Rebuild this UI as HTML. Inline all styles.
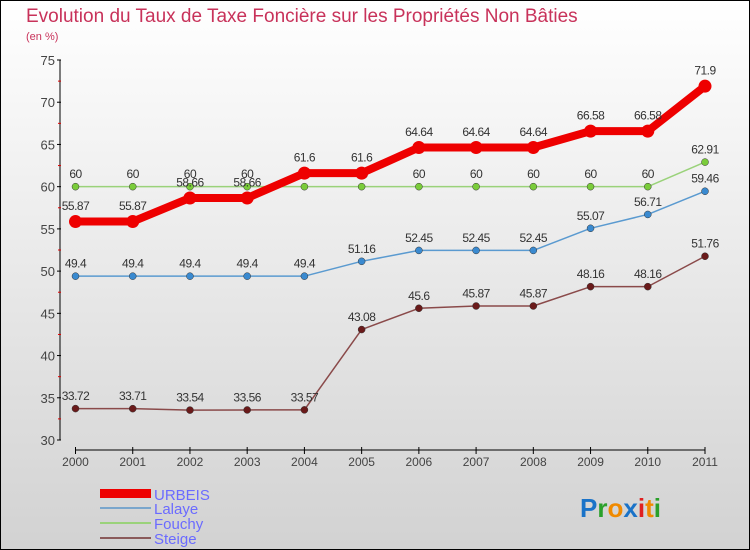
<!DOCTYPE html>
<html><head><meta charset="utf-8"><style>
body{margin:0}
#c{width:750px;height:550px;position:relative;overflow:hidden;box-sizing:border-box;border:1px solid #000;background:linear-gradient(#ffffff,#d2d2d2);font-family:"Liberation Sans",sans-serif}
</style></head><body>
<div id="c">
<svg id="s" width="750" height="550" style="position:absolute;left:-1px;top:-1px">
<text x="26" y="22" font-size="19" fill="#c8325a">Evolution du Taux de Taxe Foncière sur les Propriétés Non Bâties</text>
<text x="26" y="40" font-size="11" fill="#c8325a">(en %)</text>
<g id="axes"></g><g id="series"></g>
<g>
<rect x="100" y="489" width="51" height="9" fill="#e00"/>
<text x="154" y="500" font-size="15" fill="#6b6bff">URBEIS</text>
<line x1="100" y1="508" x2="151" y2="508" stroke="#7aa6cc" stroke-width="2"/>
<text x="154" y="514" font-size="15" fill="#6b6bff">Lalaye</text>
<line x1="100" y1="523" x2="151" y2="523" stroke="#9ad27a" stroke-width="2"/>
<text x="154" y="529" font-size="15" fill="#6b6bff">Fouchy</text>
<line x1="100" y1="538" x2="151" y2="538" stroke="#8a5a5a" stroke-width="2"/>
<text x="154" y="544" font-size="15" fill="#6b6bff">Steige</text>
</g>
<g font-size="26" font-weight="bold">
<text x="580" y="517"><tspan fill="#1a73c8">P</tspan><tspan fill="#2aa02a">r</tspan><tspan fill="#f08a00">o</tspan><tspan fill="#1a73c8">x</tspan><tspan fill="#e02020">i</tspan><tspan fill="#f08a00">t</tspan><tspan fill="#2aa02a">i</tspan></text>
</g>
</svg>
</div>
<script>
const years=[2000,2001,2002,2003,2004,2005,2006,2007,2008,2009,2010,2011];
const yTicks=[30,35,40,45,50,55,60,65,70,75];
const urbeis=[55.87,55.87,58.66,58.66,61.6,61.6,64.64,64.64,64.64,66.58,66.58,71.9];
const lalaye=[49.4,49.4,49.4,49.4,49.4,51.16,52.45,52.45,52.45,55.07,56.71,59.46];
const fouchy=[60,60,60,60,60,60,60,60,60,60,60,62.91];
const steige=[33.72,33.71,33.54,33.56,33.57,43.08,45.6,45.87,45.87,48.16,48.16,51.76];
const NS="http://www.w3.org/2000/svg";
const X=i=>75.5+i*(705-75.5)/(years.length-1);
const Y=v=>440-(v-30)*(380/45);
function mk(t,a,p){const e=document.createElementNS(NS,t);for(const k in a)e.setAttribute(k,a[k]);p.appendChild(e);return e;}
const ax=document.getElementById('axes');
const yl=mk('line',{x1:60,y1:Y(75),x2:60,y2:Y(30),stroke:'#000'},ax);


yTicks.forEach(v=>{
 mk('line',{x1:57,y1:Y(v),x2:61,y2:Y(v),stroke:'#000'},ax);
 const t=mk('text',{x:55,y:Y(v)+5,'font-size':13,fill:'#444','text-anchor':'end'},ax);
 t.textContent=v;
 
 
 if(v<75)mk('line',{x1:58,y1:Y(v+2.5),x2:61,y2:Y(v+2.5),stroke:'#d00'},ax);
});
const xl=mk('line',{x1:75.5,y1:450,x2:705,y2:450,stroke:'#000'},ax);


years.forEach((yr,i)=>{
 mk('line',{x1:X(i),y1:447,x2:X(i),y2:454,stroke:'#000'},ax);
 const t=mk('text',{x:X(i),y:466,'font-size':12,fill:'#444','text-anchor':'middle'},ax);
 t.textContent=yr;
 
 
});
const sg=document.getElementById('series');
function series(name,data,color,lw,r,dot){
 const g=mk('g',{},sg);
 
 
 const p=mk('polyline',{points:data.map((v,i)=>X(i)+','+Y(v)).join(' '),fill:'none',stroke:color,'stroke-width':lw,'stroke-linejoin':'round'},g);
 
 
 data.forEach((v,i)=>{
  const c=mk('circle',{cx:X(i),cy:Y(v),r:r,fill:dot,stroke:dot==='#e00'?'none':'#333','stroke-width':0.5},g);
  
  
  const t=mk('text',{x:X(i),y:Y(v)-(r+5),'font-size':12,fill:'#333','text-anchor':'middle','letter-spacing':'-0.5'},g);
  t.textContent=v;
  
  
 });
}
series('steige',steige,'#8a4a4a',1.5,3.5,'#6a1a1a');
series('lalaye',lalaye,'#5a9ad0',1.5,3.5,'#3a8ad0');
series('fouchy',fouchy,'#9ad27a',1.5,3.5,'#7acc3a');
series('urbeis',urbeis,'#e00',8,6.5,'#e00');
</script>
</body></html>
